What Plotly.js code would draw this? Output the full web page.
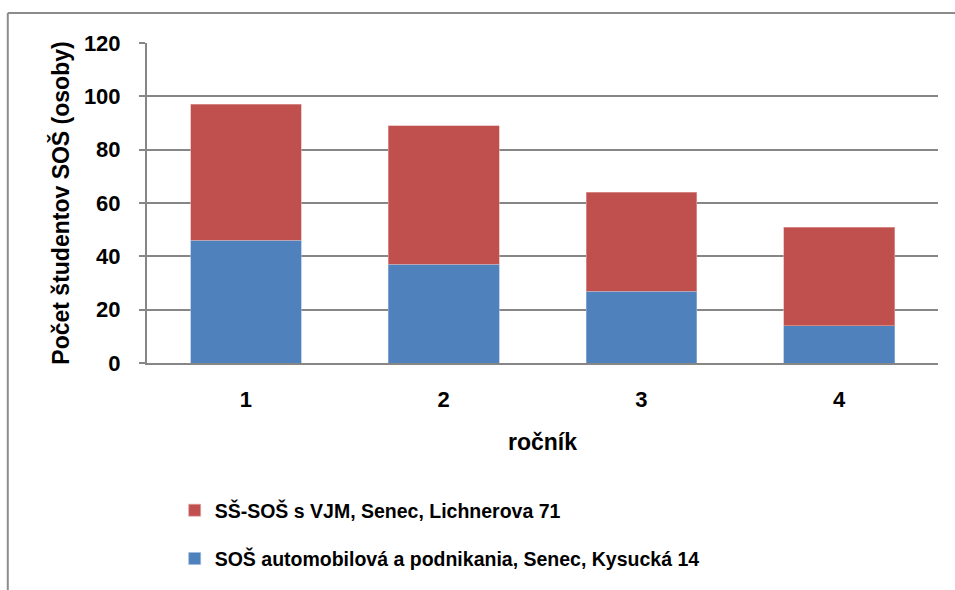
<!DOCTYPE html>
<html>
<head>
<meta charset="utf-8">
<script src="https://cdn.plot.ly/plotly-3.0.1.min.js"></script>
<style>
html,body{margin:0;padding:0;background:#fff;}
#chart{width:955px;height:590px;}
</style>
</head>
<body>
<div id="chart"></div>
<script>
const categories = ["1", "2", "3", "4"];
const seriesBlueName = "SOŠ automobilová a podnikania, Senec, Kysucká 14";
const seriesBlue = [46, 37, 27, 14];
const seriesRedName = "SŠ-SOŠ s VJM, Senec, Lichnerova 71";
const seriesRed = [51, 52, 37, 37];
const yTicks = [0, 20, 40, 60, 80, 100, 120];

const FONT = "Liberation Sans, Arial, sans-serif";

const traces = [
  {
    type: "bar", x: categories, y: seriesBlue, name: seriesBlueName,
    marker: {color: "#4F81BD", line: {color: "#9DB9DC", width: 0.6}},
    legendgroup: "b", legendrank: 2, hoverinfo: "skip"
  },
  {
    type: "bar", x: categories, y: seriesRed, name: seriesRedName,
    marker: {color: "#C0504D", line: {color: "#E0A8A6", width: 0.6}},
    legendgroup: "r", legendrank: 1, hoverinfo: "skip"
  }
];

const layout = {
  width: 955, height: 590,
  margin: {l: 147, r: 17, t: 43, b: 227},
  barmode: "stack",
  bargap: 0.44,
  paper_bgcolor: "#fff", plot_bgcolor: "#fff",
  font: {family: FONT, color: "#000", size: 22, weight: "bold"},
  xaxis: {
    type: "category",
    tickfont: {family: FONT, size: 22, weight: "bold"},
    showline: true, linecolor: "#868686", linewidth: 2,
    ticks: "", ticklen: 0,
    ticklabelstandoff: 16,
    title: {text: "ročník", font: {family: FONT, size: 23, weight: "bold"}, standoff: 22},
    zeroline: false
  },
  yaxis: {
    range: [0, 120],
    tickvals: yTicks,
    ticktext: yTicks.map(String),
    tickfont: {family: FONT, size: 22, weight: "bold"},
    showgrid: true, gridcolor: "#868686", gridwidth: 2,
    showline: true, linecolor: "#868686", linewidth: 2,
    ticks: "outside", ticklen: 6, tickcolor: "#868686", tickwidth: 2,
    ticklabelstandoff: 14,
    zeroline: false,
    title: {text: "Počet študentov SOŠ (osoby)", font: {family: FONT, size: 23, weight: "bold"}, standoff: 8}
  },
  showlegend: true,
  legend: {
    orientation: "v",
    x: 0.035, xanchor: "left",
    y: -0.40, yanchor: "top",
    traceorder: "grouped",
    tracegroupgap: 20,
    font: {family: FONT, size: 19.5, weight: "bold"},
    itemwidth: 30,
    bgcolor: "rgba(0,0,0,0)"
  },
  shapes: [
    {type: "line", xref: "paper", yref: "paper", x0: -0.176, x1: 1.03, y0: 1.094, y1: 1.094, line: {color: "#8C8C8C", width: 2}},
    {type: "line", xref: "paper", yref: "paper", x0: -0.176, x1: -0.176, y0: 1.094, y1: -0.72, line: {color: "#8C8C8C", width: 2}}
  ]
};

Plotly.newPlot("chart", traces, layout, {displayModeBar: false, staticPlot: true});
</script>
</body>
</html>
